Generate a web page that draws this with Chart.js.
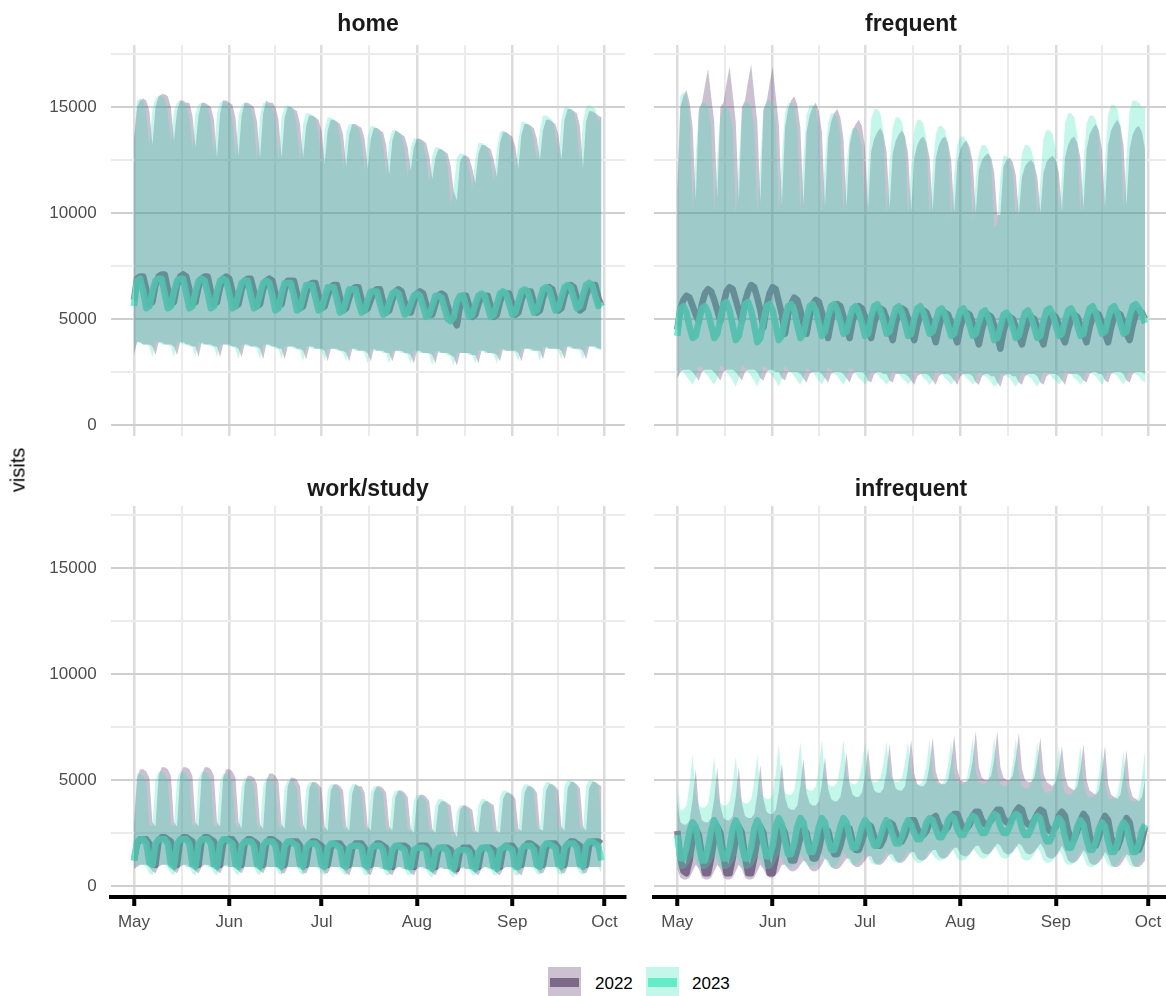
<!DOCTYPE html>
<html>
<head>
<meta charset="utf-8">
<script src="https://cdn.jsdelivr.net/npm/chart.js@4"></script>
<style>
  html, body { margin: 0; padding: 0; background: #fff; overflow: hidden; }
  body { width: 1166px; height: 996px; position: relative; font-family: "Liberation Sans", Arial, sans-serif; }
  canvas { position: absolute; }
  .strip { position: absolute; font-weight: bold; font-size: 23px; color: #1a1a1a; transform: translate(-50%, -50%); white-space: nowrap; }
  .ylab { position: absolute; left: 18px; top: 470px; font-size: 20px; color: #000; transform: translate(-50%, -50%) rotate(-90deg); }
  .key { position: absolute; top: 967px; width: 33px; height: 33px; }
  .key span { position: absolute; left: 2px; right: 2px; top: 11px; height: 9px; }
  .keytxt { position: absolute; top: 984px; font-size: 17px; color: #000; transform: translateY(-50%); }
</style>
</head>
<body>
<canvas id="home" width="640" height="470" style="left:0;top:0"></canvas>
<canvas id="frequent" width="530" height="470" style="left:640px;top:0"></canvas>
<canvas id="work" width="640" height="490" style="left:0;top:470px"></canvas>
<canvas id="infrequent" width="530" height="490" style="left:640px;top:470px"></canvas>

<div class="strip" style="left:368px;top:23px">home</div>
<div class="strip" style="left:911px;top:23px">frequent</div>
<div class="strip" style="left:368px;top:488px">work/study</div>
<div class="strip" style="left:911px;top:488px">infrequent</div>
<div class="ylab">visits</div>

<div class="key" style="left:548px;background:#cbc1d1"><span style="background:#7d6a89"></span></div>
<div class="keytxt" style="left:595px">2022</div>
<div class="key" style="left:646px;background:#c2f7ea"><span style="background:#64ecc9"></span></div>
<div class="keytxt" style="left:692px">2023</div>

<script>
// daily values, May 1 .. Sep 30, in hundreds of visits
// hi / lo = ribbon edges, mid = line

const home22Hi = [
  135,150,153,154,153,148,132, 150,155,156,156,155,150,134, 148,153,153,152,152,146,131,
  146,152,152,151,150,144,126, 147,153,153,152,151,145,127, 146,152,152,151,150,143,126,
  147,153,152,152,150,144,126, 145,150,150,149,148,142,126, 141,146,146,145,144,139,123,
  139,144,144,143,142,137,122, 137,142,142,141,140,135,121, 135,140,140,139,138,132,118,
  134,139,138,137,136,131,120, 131,135,135,134,133,127,116, 126,130,130,129,128,122,110,
  106,124,127,127,126,121,114, 128,132,132,131,130,125,117, 133,138,138,137,136,131,121,
  137,142,142,141,140,135,125, 139,144,144,143,142,137,125, 144,149,149,148,147,141,121,
  143,148,148,147,146,145
];
const home22Mid = [
  59,69,70,70,64,57,58, 66,70,71,71,64,57,58, 66,70,71,70,64,57,58,
  65,69,70,70,63,57,58, 65,69,70,69,63,56,57, 64,68,69,69,63,56,57,
  64,68,69,68,62,56,57, 64,68,68,68,62,55,56, 62,66,67,67,61,55,56,
  61,65,66,66,60,54,55, 60,64,65,65,59,54,55, 59,63,64,64,58,53,54,
  59,63,64,63,58,53,53, 58,62,63,62,57,52,52, 57,61,62,61,56,51,50,
  47,56,61,61,56,51,52, 57,61,61,61,56,51,52, 58,62,62,62,57,52,53,
  59,63,63,63,58,53,54, 60,64,65,64,59,54,55, 61,65,66,65,60,54,55,
  61,65,66,66,60,56
];
const home22Lo = [
  33,39,39,38,38,38,37, 33,39,39,38,38,38,37, 33,39,39,38,38,37,37,
  32,39,38,38,38,37,37, 32,38,38,38,37,37,36, 32,38,38,37,37,37,36,
  31,38,38,37,37,36,36, 31,37,37,37,36,36,35, 31,37,37,36,36,36,35,
  30,36,36,36,35,35,34, 30,36,36,35,35,35,34, 30,36,35,35,35,34,34,
  30,35,35,35,34,34,33, 29,35,35,34,34,34,33, 29,35,34,34,34,33,32,
  28,34,34,34,34,33,33, 29,35,35,34,34,34,33, 30,36,35,35,35,35,34,
  30,36,36,36,35,35,35, 31,37,36,36,36,36,35, 31,37,37,36,36,36,35,
  31,37,37,37,36,36
];
const home23Hi = [
  132,153,154,153,147,131,149, 154,155,155,154,148,133,148, 152,153,152,151,145,130,147,
  151,152,151,150,143,127,147, 152,153,152,151,144,126,146, 151,152,151,150,143,125,146,
  152,152,151,150,143,125,145, 150,151,150,148,141,124,142, 147,147,146,145,138,122,139,
  145,145,144,143,136,121,138, 142,142,141,140,134,120,136, 141,141,140,139,132,119,134,
  139,139,138,137,130,117,131, 135,135,134,133,127,114,127, 131,131,130,129,122,104,112,
  126,128,128,127,121,112,125, 133,133,132,131,125,115,130, 138,139,138,137,131,121,134,
  143,143,142,141,135,124,139, 146,146,145,144,138,125,144, 150,150,149,148,141,122,143,
  150,151,150,149,143,146
];
const home23Mid = [
  56,68,69,63,55,56,63, 68,69,69,62,55,56,63, 68,69,69,62,55,56,63,
  68,69,68,62,55,56,63, 68,69,68,62,55,56,62, 67,68,68,61,55,56,62,
  67,68,67,61,54,55,62, 67,67,67,61,54,55,61, 66,66,66,60,54,55,60,
  65,65,65,59,53,54,59, 64,64,64,58,53,54,59, 63,63,63,57,52,53,58,
  62,63,62,57,52,53,57, 61,62,61,56,51,52,56, 61,61,60,55,50,49,51,
  58,61,61,56,51,52,57, 61,62,61,56,51,52,57, 62,63,62,57,52,53,58,
  63,64,63,58,53,54,59, 64,65,64,59,54,55,60, 65,66,65,60,55,56,61,
  66,67,66,61,56,58
];
const home23Lo = [
  35,39,39,38,38,37,32, 39,39,38,38,38,37,32, 39,39,38,38,37,37,32,
  39,38,38,38,37,37,32, 38,38,38,37,37,36,31, 38,38,37,37,37,36,31,
  38,38,37,37,36,36,31, 37,37,37,36,36,35,30, 37,37,36,36,36,35,30,
  36,36,36,35,35,34,30, 36,36,35,35,35,34,29, 36,35,35,35,34,34,29,
  35,35,35,34,34,33,29, 35,35,34,34,34,33,28, 35,34,34,34,33,32,28,
  34,34,34,34,33,33,29, 35,35,34,34,34,33,29, 36,35,35,35,35,34,30,
  36,36,36,35,35,35,30, 37,36,36,36,36,35,31, 37,37,36,36,36,35,31,
  37,37,37,36,36,35
];

const freq22Hi = [
  110,150,155,158,152,140,106, 149,152,160,168,155,143,107, 150,152,161,169,156,143,106,
  150,153,162,170,156,143,105, 149,152,161,169,155,142,104, 140,149,153,155,151,140,104,
  138,146,150,152,148,138,103, 135,143,147,149,145,135,103, 132,139,142,144,141,131,102,
  129,135,138,140,137,129,102, 128,134,137,139,136,128,101, 126,132,135,136,133,126,101,
  126,132,135,136,133,125,100, 124,130,133,134,131,124,100, 120,125,127,128,126,119,99,
  99,122,125,126,124,118,99, 117,122,124,125,123,117,100, 119,124,126,127,125,119,101,
  126,132,135,136,133,126,102, 130,137,140,142,139,130,103, 132,139,142,144,141,132,104,
  130,137,140,141,138,130
];
const freq22Mid = [
  45,55,59,61,60,56,52, 49,57,62,64,63,59,54, 49,57,63,65,64,59,54,
  49,58,63,66,65,60,54, 46,56,62,65,64,58,52, 43,52,57,60,59,54,48,
  43,51,57,59,58,53,48, 41,49,55,57,56,51,46, 41,49,54,56,55,51,45,
  41,48,53,55,54,50,45, 40,48,53,55,54,50,44, 40,47,52,54,53,49,44,
  39,46,51,53,52,48,43, 39,46,51,53,52,48,43, 38,45,50,52,51,47,42,
  36,44,49,51,50,46,42, 38,44,49,51,50,46,42, 38,45,50,52,51,47,42,
  39,45,50,52,51,47,43, 39,46,51,53,52,48,43, 39,46,51,53,52,48,43,
  40,47,52,54,53,50
];
const freq22Lo = [
  22,25,26,26,26,25,23, 21,25,26,26,26,25,23, 21,25,26,26,26,25,23,
  21,25,26,26,26,25,22, 21,25,26,26,25,25,22, 21,25,25,25,25,24,22,
  20,24,25,25,25,24,22, 20,24,25,25,25,24,22, 20,24,25,25,25,24,21,
  20,24,25,25,24,24,21, 20,24,24,24,24,23,21, 19,23,24,24,24,23,21,
  19,23,24,24,24,23,21, 19,23,24,24,24,23,20, 19,23,24,24,23,23,20,
  18,23,24,24,23,23,20, 19,23,24,24,24,23,20, 19,23,24,24,24,23,21,
  19,24,24,24,24,23,21, 20,24,25,25,24,24,21, 20,24,25,25,25,24,21,
  20,24,25,25,25,24
];
const freq23Hi = [
  110,155,157,155,146,101,128, 147,152,152,150,141,101,127, 145,150,150,148,140,100,125,
  147,152,152,150,141,100,126, 148,153,153,151,142,101,127, 147,152,152,150,141,101,126,
  146,151,151,149,140,100,125, 142,147,147,145,137,100,123, 136,140,140,138,131,99,120,
  144,149,149,147,138,99,124, 140,145,145,143,135,99,122, 139,144,144,142,134,98,121,
  137,141,141,139,132,97,119, 132,136,136,134,127,96,116, 128,132,132,130,124,93,95,
  117,127,127,125,120,97,112, 128,132,132,130,124,98,115, 135,139,139,137,130,99,119,
  142,147,147,145,137,100,124, 142,146,146,144,137,101,124, 146,151,151,149,141,102,127,
  148,153,153,152,150,150
];
const freq23Mid = [
  42,55,56,53,46,41,42, 49,55,56,53,47,41,43, 50,57,58,54,47,40,42,
  49,57,58,54,47,39,41, 49,56,57,54,47,40,42, 50,56,57,54,47,41,43,
  50,56,57,54,48,42,44, 51,56,57,54,49,43,44, 50,55,56,53,48,42,43,
  51,56,57,54,49,43,44, 50,55,56,53,48,42,43, 50,55,56,53,48,43,44,
  49,54,55,52,47,42,43, 49,54,55,52,47,42,43, 48,53,54,51,46,40,41,
  46,52,53,51,46,41,42, 48,53,54,51,46,41,42, 49,54,55,52,47,42,43,
  49,54,55,52,47,42,43, 50,55,56,53,48,43,44, 50,55,56,53,48,43,44,
  51,56,57,55,52,48
];
const freq23Lo = [
  22,27,25,23,21,19,22, 28,27,25,23,21,19,22, 28,27,25,23,21,18,22,
  28,27,25,23,21,18,22, 28,27,25,23,21,18,22, 28,26,25,23,21,19,22,
  27,26,25,23,21,19,22, 27,26,24,23,21,19,22, 27,26,24,22,21,19,21,
  26,25,24,22,21,19,21, 26,25,24,22,21,19,21, 26,25,24,22,21,19,21,
  26,25,24,22,21,19,21, 25,25,24,22,21,19,21, 25,24,23,22,20,18,19,
  24,24,23,22,20,18,21, 25,24,23,22,20,18,21, 25,25,24,22,21,19,21,
  26,25,24,22,21,19,21, 26,25,24,23,21,19,22, 26,25,24,23,21,19,22,
  26,25,24,23,21,20
];

const work22Hi = [
  28,51,55,55,54,51,30, 28,52,56,56,55,52,30, 28,52,56,56,55,52,30,
  28,52,56,56,55,52,30, 28,51,55,55,54,51,30, 27,48,52,52,51,48,29,
  27,49,53,53,52,49,29, 27,47,51,51,50,47,29, 26,46,49,49,48,46,28,
  26,45,48,48,47,45,28, 26,44,48,47,47,44,28, 26,44,47,47,46,44,28,
  26,42,45,45,44,42,27, 25,40,43,43,42,40,27, 25,38,40,40,39,38,26,
  23,36,38,38,37,36,26, 25,38,40,40,39,38,26, 25,41,44,44,43,41,27,
  26,44,47,47,46,44,27, 26,45,48,48,47,45,28, 26,46,49,49,48,46,28,
  26,46,49,49,48,47
];
const work22Mid = [
  12,20,22,22,22,20,12, 10,21,23,23,22,21,11, 10,21,23,23,22,21,11,
  10,21,23,23,22,21,11, 10,20,22,22,22,20,11, 10,20,22,22,21,20,11,
  10,20,22,22,21,20,11, 10,19,21,21,21,19,11, 10,19,21,21,20,19,11,
  10,18,20,20,20,18,11, 10,18,20,20,20,18,11, 10,18,20,20,19,18,10,
  9,18,19,19,19,18,10, 9,17,19,19,19,17,10, 9,17,18,18,18,17,10,
  8,16,18,18,18,16,10, 9,17,18,18,18,17,10, 9,17,19,19,19,17,10,
  10,18,20,20,19,18,10, 10,18,20,20,20,18,11, 10,19,21,21,20,19,11,
  10,19,21,21,21,20
];
const work22Lo = [
  8,9,10,10,10,9,7, 6,9,10,10,10,9,7, 6,9,10,10,9,9,7,
  6,9,10,10,9,9,7, 6,9,10,9,9,9,7, 6,9,9,9,9,9,7,
  6,9,9,9,9,9,6, 6,9,9,9,9,9,6, 6,9,9,9,9,8,6,
  6,9,9,9,9,8,6, 5,9,9,9,9,8,6, 5,9,9,9,8,8,6,
  5,8,9,9,8,8,6, 5,8,9,9,8,8,6, 5,8,9,8,8,8,6,
  5,8,9,8,8,8,6, 5,8,9,9,8,8,6, 5,8,9,9,9,8,6,
  5,9,9,9,9,8,6, 6,9,9,9,9,9,6, 6,9,9,9,9,9,6,
  6,9,9,9,9,9
];
const work23Hi = [
  30,53,53,52,49,29,28, 50,54,54,53,50,29,28, 50,54,54,53,50,29,28,
  50,54,54,53,50,29,28, 49,53,53,52,49,29,27, 47,51,51,50,47,29,27,
  47,51,51,50,47,29,27, 46,50,50,49,46,28,27, 46,49,49,48,46,28,26,
  45,48,48,47,45,28,26, 45,48,48,47,44,28,26, 44,47,47,46,44,27,26,
  42,45,45,44,42,27,26, 40,43,43,42,40,27,25, 38,41,41,40,38,25,23,
  35,38,38,37,36,26,25, 38,41,41,40,38,26,25, 42,45,45,44,42,27,25,
  45,48,48,47,45,28,26, 46,49,49,48,46,28,26, 47,50,50,49,47,28,26,
  47,50,50,49,47,30
];
const work23Mid = [
  12,21,22,22,20,11,10, 20,22,22,22,20,10,9, 20,22,22,22,20,10,9,
  20,22,22,22,20,10,9, 20,22,22,21,20,10,9, 19,21,21,21,19,10,9,
  19,21,21,21,19,10,9, 19,21,21,20,19,10,9, 18,20,20,20,18,10,9,
  18,20,20,19,18,10,9, 18,19,19,19,18,10,9, 17,19,19,19,17,9,9,
  17,19,19,18,17,9,9, 17,18,18,18,17,9,8, 16,18,18,18,16,9,8,
  16,17,17,17,16,9,8, 16,18,18,18,16,9,8, 17,18,19,18,17,9,9,
  17,19,19,19,17,10,9, 18,20,20,19,18,10,9, 18,20,20,20,18,10,9,
  19,21,21,20,19,12
];
const work23Lo = [
  8,10,10,10,9,6,5, 9,10,10,10,9,6,5, 9,10,10,9,9,6,5,
  9,10,10,9,9,6,5, 9,10,9,9,9,6,5, 9,9,9,9,9,6,5,
  9,9,9,9,9,6,5, 9,9,9,9,9,6,5, 9,9,9,9,8,6,5,
  9,9,9,9,8,6,5, 9,9,9,9,8,5,5, 9,9,9,8,8,5,5,
  8,9,9,8,8,5,5, 8,9,9,8,8,5,4, 8,9,8,8,8,5,4,
  8,9,8,8,8,5,5, 8,9,9,8,8,5,5, 8,9,9,9,8,5,5,
  9,9,9,9,8,6,5, 9,9,9,9,9,6,5, 9,9,9,9,9,6,5,
  9,9,9,9,9,6
];

const infreq22Hi = [
  40,30,29,29,31,41,55, 37,31,30,30,32,41,56, 38,32,31,31,33,42,56,
  39,33,32,32,34,43,57, 41,35,34,34,36,45,58, 42,37,36,36,38,47,60,
  44,39,38,38,40,48,61, 46,41,40,40,42,50,63, 48,43,42,42,44,52,65,
  50,45,44,44,46,54,67, 51,46,45,45,47,56,69, 53,48,47,47,49,57,70,
  54,49,48,48,50,58,71, 55,50,49,49,51,59,73, 56,51,50,50,52,60,73,
  56,51,50,50,52,60,72, 55,50,49,49,51,59,70, 53,49,48,47,49,56,66,
  52,47,46,45,47,55,67, 50,45,44,43,45,54,66, 48,43,42,41,43,52,64,
  47,42,41,40,42,50
];
const infreq22Mid = [
  26,13,7,6,12,22,27, 24,14,6,6,13,22,28, 25,14,6,6,13,22,28,
  25,14,6,6,13,22,28, 25,14,6,6,13,22,28, 25,17,12,12,17,23,27,
  25,18,13,13,17,24,27, 26,20,15,15,19,25,28, 27,21,17,17,21,26,29,
  28,23,19,19,22,27,30, 29,25,21,21,24,29,31, 31,27,24,24,26,30,32,
  33,29,26,26,28,32,34, 34,30,27,27,29,33,35, 35,31,29,29,31,34,36,
  36,32,30,30,32,35,37, 36,31,29,29,31,34,36, 35,29,26,26,28,33,35,
  33,26,22,22,26,31,34, 32,24,19,19,23,30,33, 31,23,18,18,22,28,32,
  30,22,17,17,21,28
];
const infreq22Lo = [
  8,4,3,3,4,7,10, 8,4,3,3,4,7,10, 8,4,3,3,4,7,10,
  8,4,3,3,4,7,10, 8,5,4,4,5,7,10, 10,8,7,7,8,10,12,
  11,8,7,7,8,10,13, 12,9,8,8,9,11,13, 13,10,9,9,10,12,14,
  14,11,10,10,11,13,15, 15,12,11,11,12,14,16, 16,13,12,12,13,15,17,
  17,14,13,13,14,16,18, 18,15,14,14,15,17,19, 19,16,15,15,16,18,20,
  19,16,15,15,16,18,20, 19,16,15,15,16,18,20, 18,14,13,13,14,16,19,
  16,12,11,11,12,14,17, 15,11,10,10,11,13,16, 14,10,9,9,10,12,15,
  14,10,9,9,10,12
];
const infreq23Hi = [
  48,36,36,38,48,62,43, 38,37,37,39,48,61,43, 39,38,38,40,48,61,44,
  40,39,39,41,49,62,45, 42,41,41,43,53,67,47, 44,43,43,45,54,68,49,
  46,45,45,47,56,69,51, 48,47,47,49,57,69,52, 49,48,48,50,57,68,53,
  50,49,49,51,58,68,54, 50,49,49,51,58,68,54, 49,48,48,50,57,69,53,
  49,48,48,50,57,68,53, 49,48,48,50,58,70,54, 49,48,48,50,58,70,54,
  48,47,47,49,57,70,53, 47,46,46,48,56,68,52, 45,44,44,46,54,66,50,
  44,43,43,45,53,66,49, 43,42,42,44,52,65,48, 42,41,41,43,51,64,47,
  41,40,40,42,51,64
];
const infreq23Mid = [
  24,13,13,18,26,30,28, 19,12,12,18,26,31,28, 19,13,13,18,27,31,28,
  19,13,13,18,27,31,28, 20,14,14,19,28,32,29, 21,15,15,20,28,32,30,
  22,16,16,21,28,32,30, 22,17,17,22,28,32,30, 23,18,18,22,28,31,29,
  23,19,19,23,28,31,29, 24,20,20,23,28,31,29, 25,22,22,25,30,32,31,
  27,23,23,26,31,33,32, 27,24,24,27,31,33,32, 28,25,25,28,32,34,33,
  28,25,25,28,32,34,33, 27,24,24,27,31,33,32, 25,21,21,24,29,32,30,
  23,18,18,22,28,31,29, 22,17,17,21,27,30,28, 21,16,16,20,27,30,28,
  21,16,16,20,26,29
];
const infreq23Lo = [
  10,8,8,9,11,14,12, 9,8,8,9,11,14,12, 9,8,8,9,11,14,12,
  9,8,8,9,11,14,12, 9,8,8,9,12,15,13, 10,9,9,10,12,15,13,
  10,9,9,10,12,15,13, 10,9,9,10,13,16,14, 11,10,10,11,13,16,14,
  11,10,10,11,13,16,14, 12,11,11,12,14,17,15, 12,11,11,12,14,17,15,
  13,12,12,13,15,18,16, 13,12,12,13,15,18,16, 14,13,13,14,16,19,17,
  14,13,13,14,16,19,17, 13,12,12,13,15,18,16, 12,11,11,12,14,17,15,
  11,10,10,11,13,16,14, 10,9,9,10,12,15,13, 10,9,9,10,12,15,13,
  10,9,9,10,12,15
];

// axis breaks
const monthLabels = ["May", "Jun", "Jul", "Aug", "Sep", "Oct"];
const monthStarts = [0, 31, 61, 92, 123, 153]; // days after May 1
const yLabels = [0, 5000, 10000, 15000];
const years = ["2022", "2023"];

const FILL22 = "rgba(82,48,102,0.3)";
const FILL23 = "rgba(52,228,185,0.3)";
const LINE22 = "rgba(134,124,146,0.95)";
const LINE23 = "rgba(100,232,198,0.92)";
const TICK_FONT = { family: "'Liberation Sans', Arial, sans-serif", size: 17 };

// minor breaks sit half way between majors, like ggplot
const xBreaks = [];
monthStarts.forEach((d, i) => {
  xBreaks.push(d);
  if (i < monthStarts.length - 1) xBreaks.push((d + monthStarts[i + 1]) / 2);
});
const yBreaks = [];
for (let v = 0; v <= 17500; v += 2500) yBreaks.push(v);

const toPoints = arr => arr.map((v, i) => ({ x: i, y: v * 100 }));

function panel(id, s, opts) {
  const lineDs = (arr, color, order, label) => ({
    label, data: toPoints(arr), borderColor: color, borderWidth: 6.5,
    borderJoinStyle: "round", pointRadius: 0, fill: false, order
  });
  const loDs = (arr, order) => ({
    data: toPoints(arr), borderColor: "rgba(0,0,0,0)", borderWidth: 0,
    pointRadius: 0, fill: false, order
  });
  const hiDs = (arr, color, order, label) => ({
    label, data: toPoints(arr), borderColor: "rgba(0,0,0,0)", borderWidth: 0,
    pointRadius: 0, backgroundColor: color, fill: "-1", order
  });

  new Chart(document.getElementById(id), {
    type: "line",
    data: {
      datasets: [
        lineDs(s.mid22, LINE22, 6, years[0]),
        lineDs(s.mid23, LINE23, 5, years[1]),
        loDs(s.lo22, 4),
        hiDs(s.hi22, FILL22, 3, years[0]),
        loDs(s.lo23, 2),
        hiDs(s.hi23, FILL23, 1, years[1])
      ]
    },
    options: {
      responsive: false,
      animation: false,
      events: [],
      layout: { padding: { left: 0, right: opts.padRight, top: opts.padTop, bottom: 0 } },
      plugins: { legend: { display: false }, tooltip: { enabled: false } },
      scales: {
        x: {
          type: "linear",
          min: -7.6,
          max: 159.6,
          afterBuildTicks: sc => { sc.ticks = xBreaks.map(v => ({ value: v })); },
          afterFit: sc => { sc.height = opts.xHeight; },
          ticks: {
            display: opts.showX,
            autoSkip: false,
            maxRotation: 0,
            padding: 6,
            font: TICK_FONT,
            color: "#4d4d4d",
            callback: v => {
              const i = monthStarts.indexOf(v);
              return i >= 0 ? monthLabels[i] : "";
            }
          },
          grid: {
            color: c => monthStarts.includes(c.tick.value) ? "#dcdcdc" : "#ebebeb",
            lineWidth: c => monthStarts.includes(c.tick.value) ? 2.5 : 2,
            drawTicks: opts.showX,
            tickLength: 9,
            tickWidth: 4,
            tickColor: c => monthStarts.includes(c.tick.value) ? "#000" : "rgba(0,0,0,0)"
          },
          border: { display: opts.showX, color: "#000", width: 4 }
        },
        y: {
          min: -520,
          max: 17920,
          afterBuildTicks: sc => { sc.ticks = yBreaks.map(v => ({ value: v })); },
          afterFit: sc => { sc.width = opts.yWidth; },
          ticks: {
            display: opts.showY,
            padding: 14,
            font: TICK_FONT,
            color: "#4d4d4d",
            callback: v => yLabels.includes(v) ? String(v) : ""
          },
          grid: {
            drawTicks: false,
            color: c => yLabels.includes(c.tick.value) ? "#cfcfcf" : "#ebebeb",
            lineWidth: 2
          },
          border: { display: false }
        }
      }
    }
  });
}

const topOpts = { showX: false, xHeight: 34, padTop: 45 };
const botOpts = { showX: true, xHeight: 63, padTop: 36 };
const leftOpts = { showY: true, yWidth: 110.6, padRight: 15.2 };
const rightOpts = { showY: false, yWidth: 13.9, padRight: 1.6 };

panel("home", { hi22: home22Hi, mid22: home22Mid, lo22: home22Lo, hi23: home23Hi, mid23: home23Mid, lo23: home23Lo },
  { ...topOpts, ...leftOpts });
panel("frequent", { hi22: freq22Hi, mid22: freq22Mid, lo22: freq22Lo, hi23: freq23Hi, mid23: freq23Mid, lo23: freq23Lo },
  { ...topOpts, ...rightOpts });
panel("work", { hi22: work22Hi, mid22: work22Mid, lo22: work22Lo, hi23: work23Hi, mid23: work23Mid, lo23: work23Lo },
  { ...botOpts, ...leftOpts });
panel("infrequent", { hi22: infreq22Hi, mid22: infreq22Mid, lo22: infreq22Lo, hi23: infreq23Hi, mid23: infreq23Mid, lo23: infreq23Lo },
  { ...botOpts, ...rightOpts });
</script>
</body>
</html>
